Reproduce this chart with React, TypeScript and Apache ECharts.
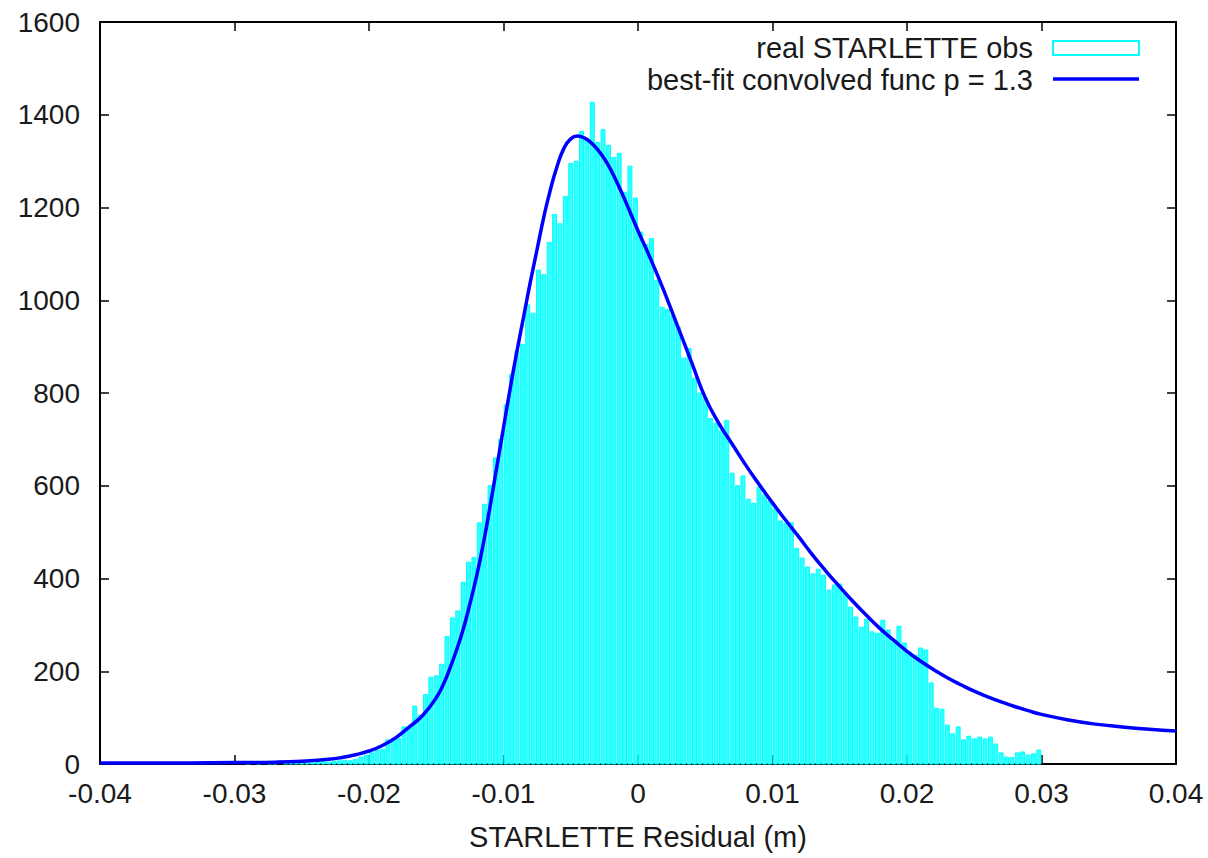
import React, { useEffect, useRef } from "react";
import * as echarts from "echarts";

// Histogram bins: width 0.0004, first bin starts at -0.03
const binStart = -0.03;
const binWidth = 0.0004;
const counts = [
  // k = -75 .. -56
  0, 0, 1, 0, 2, 0, 1, 2, 0, 1, 3, 2, 1, 3, 2, 4, 5, 4, 6, 7,
  // k = -55 .. -30
  8, 7, 10, 15, 19, 24, 30, 32, 52, 54, 55, 80, 80, 125, 105, 150, 187, 190, 215, 275, 315, 330, 392, 435, 445, 520,
  // k = -29 .. -1
  560, 600, 660, 700, 774, 840, 890, 905, 990, 972, 1065, 1055, 1125, 1185, 1165, 1224, 1295, 1300, 1364, 1345,
  1427, 1340, 1368, 1334, 1308, 1317, 1233, 1289, 1220,
  // k = 0 .. 33
  1147, 1120, 1133, 1043, 985, 980, 968, 942, 875, 896, 832, 800, 790, 745, 735, 720, 741, 627, 600, 621,
  571, 562, 597, 580, 567, 550, 524, 519, 520, 465, 444, 425, 410, 420,
  // k = 34 .. 74
  407, 375, 386, 388, 369, 338, 317, 295, 312, 285, 282, 310, 289, 263, 297, 261, 241, 235, 250, 246,
  175, 120, 118, 84, 65, 80, 52, 60, 54, 58, 54, 58, 43, 24, 15, 14, 24, 26, 19, 22, 30,
];

// Best-fit convolved function
const curveX = [
  -0.04, -0.035, -0.03, -0.027, -0.025, -0.023, -0.022, -0.021, -0.02, -0.019, -0.018, -0.017,
  -0.016, -0.015, -0.0145, -0.014, -0.0135, -0.013, -0.0125, -0.012, -0.0115, -0.011, -0.0105,
  -0.01, -0.0095, -0.009, -0.0085, -0.008, -0.0075, -0.007, -0.0065, -0.006, -0.0055, -0.005,
  -0.0045, -0.004, -0.0035, -0.003, -0.0025, -0.002, -0.0015, -0.001, 0, 0.001, 0.002, 0.003,
  0.004, 0.005, 0.006, 0.007, 0.008, 0.009, 0.01, 0.011, 0.012, 0.013, 0.014, 0.015, 0.016,
  0.017, 0.018, 0.019, 0.02, 0.021, 0.022, 0.023, 0.024, 0.025, 0.026, 0.027, 0.028, 0.029,
  0.03, 0.032, 0.034, 0.036, 0.038, 0.04,
];
const curveY = [
  2, 2, 3, 4, 6, 10, 14, 20, 28, 40, 57, 80,
  105, 143, 170, 205, 245, 290, 345, 405, 475, 555, 640,
  725, 810, 890, 965, 1040, 1110, 1180, 1240, 1290, 1328, 1348,
  1354, 1350, 1340, 1325, 1305, 1280, 1250, 1218, 1150, 1085, 1015, 940,
  865, 790, 735, 690, 645, 603, 563, 525, 488, 450, 415, 382, 350,
  320, 292, 267, 243, 222, 203, 186, 171, 157, 145, 134, 124, 115,
  107, 95, 86, 80, 75, 71,
];

const xTicks = { min: -0.04, max: 0.04, interval: 0.01 };
const yTicks = { min: 0, max: 1600, interval: 200 };

const seriesNames = ["real STARLETTE obs", "best-fit convolved func p = 1.3"];
const xName = "STARLETTE Residual (m)";

const FONT = "Liberation Sans, Arial, Helvetica, sans-serif";
const FS = 28;
const FS_BIG = 29;
const TXT = "#1a1a1a";

export default function App() {
  const ref = useRef<HTMLDivElement>(null);
  useEffect(() => {
    if (!ref.current) return;
    const chart = echarts.init(ref.current, undefined, { renderer: "svg" });
    const histData = counts.map((c, i) => [
      binStart + i * binWidth,
      binStart + (i + 1) * binWidth,
      c,
    ]);
    const lineData = curveX.map((x, i) => [x, curveY[i]]);

    const axisCommon = {
      type: "value" as const,
      splitLine: { show: false },
      axisLine: { show: true, onZero: false, lineStyle: { color: "#000", width: 2 } },
      axisTick: { show: true, inside: true, length: 9, lineStyle: { color: "#000", width: 1.5 } },
    };

    chart.setOption({
      animation: false,
      backgroundColor: "#fff",
      grid: { left: 100, right: 32, top: 22, bottom: 94, containLabel: false },
      xAxis: [
        {
          ...axisCommon,
          ...xTicks,
          position: "bottom",
          axisLabel: {
            fontSize: FS,
            fontFamily: FONT,
            color: TXT,
            margin: 15,
            formatter: (v: number) => String(+v.toFixed(2)),
          },
          name: xName,
          nameLocation: "middle",
          nameGap: 58,
          nameTextStyle: { fontSize: FS_BIG, fontFamily: FONT, color: TXT },
        },
        {
          ...axisCommon,
          ...xTicks,
          position: "top",
          axisLabel: { show: false },
        },
      ],
      yAxis: [
        {
          ...axisCommon,
          ...yTicks,
          position: "left",
          axisLabel: {
            fontSize: FS,
            fontFamily: FONT,
            color: TXT,
            margin: 20,
            formatter: (v: number) => String(v),
          },
        },
        {
          ...axisCommon,
          ...yTicks,
          position: "right",
          axisLabel: { show: false },
        },
      ],
      series: [
        {
          name: seriesNames[0],
          type: "custom",
          xAxisIndex: 0,
          yAxisIndex: 0,
          encode: { x: [0, 1], y: 2 },
          data: histData,
          renderItem: (params: any, api: any) => {
            const x0 = api.value(0);
            const x1 = api.value(1);
            const y = api.value(2);
            if (!y) return null;
            const p0 = api.coord([x0, y]);
            const p1 = api.coord([x1, 0]);
            return {
              type: "rect",
              shape: {
                x: p0[0] + 0.7,
                y: p0[1],
                width: Math.max(p1[0] - p0[0] - 1.4, 0.5),
                height: p1[1] - p0[1],
              },
              style: { fill: "#33ffff", stroke: "#00ffff", lineWidth: 1 },
            };
          },
          z: 2,
        },
        {
          name: seriesNames[1],
          type: "line",
          xAxisIndex: 0,
          yAxisIndex: 0,
          data: lineData,
          smooth: 0.5,
          showSymbol: false,
          symbol: "none",
          lineStyle: { color: "#0000ff", width: 3.5 },
          z: 3,
        },
      ],
      graphic: [
        {
          type: "text",
          x: 1033,
          y: 48,
          style: {
            text: seriesNames[0],
            fontSize: FS_BIG,
            fontFamily: FONT,
            fill: TXT,
            align: "right",
            verticalAlign: "middle",
          },
        },
        {
          type: "rect",
          shape: { x: 1053, y: 41, width: 86, height: 14 },
          style: { fill: "#fff", stroke: "#00ffff", lineWidth: 2 },
        },
        {
          type: "text",
          x: 1033,
          y: 80,
          style: {
            text: seriesNames[1],
            fontSize: FS_BIG,
            fontFamily: FONT,
            fill: TXT,
            align: "right",
            verticalAlign: "middle",
          },
        },
        {
          type: "line",
          shape: { x1: 1053, y1: 79, x2: 1139, y2: 79 },
          style: { stroke: "#0000ff", lineWidth: 3.5 },
        },
      ],
    });
    return () => chart.dispose();
  }, []);
  return (
    <div
      ref={ref}
      style={{ position: "absolute", left: 0, top: 0, width: 1208, height: 858 }}
    />
  );
}
